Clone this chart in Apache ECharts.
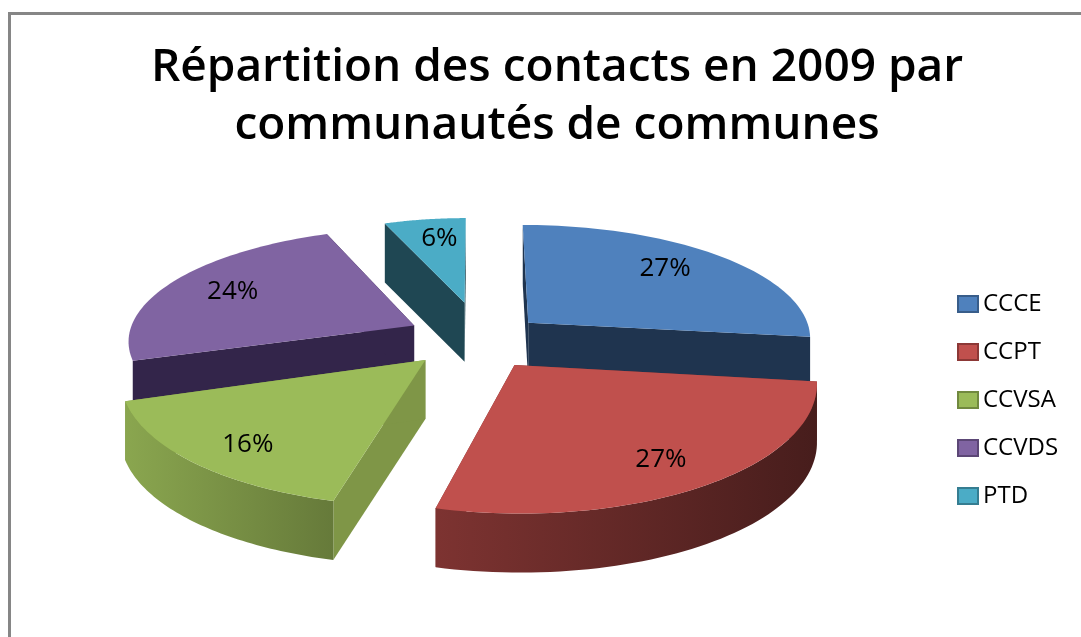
<!DOCTYPE html>
<html>
<head>
<meta charset="utf-8">
<style>html,body{margin:0;padding:0;background:#fff}#main{width:1081px;height:637px}</style>
<script src="https://cdn.jsdelivr.net/npm/echarts@6/dist/echarts.min.js"></script>
</head>
<body>
<div id="main"></div>
<script>
const titleText = "Répartition des contacts en 2009 par\ncommunautés de communes";
const categories = ["CCCE", "CCPT", "CCVSA", "CCVDS", "PTD"];
const values = [27, 27, 16, 24, 6];
const drawOrder = ["PTD", "CCVDS", "CCCE", "CCVSA", "CCPT"];
const wallSlices = ["CCPT", "CCVSA"];

const topColors = ["#4f81bd", "#c0504d", "#9bbb59", "#8064a2", "#4bacc6"];
const borderColors = ["#385d8a", "#8c3836", "#71893f", "#5c4776", "#357d91"];
const faceColors = ["#1f344f", "#7a3230", "#7f9647", "#33254a", "#1f4753"];
const wallLeft = ["#1f344f", "#7d3331", "#8aa64f", "#33254a", "#1f4753"];
const wallRight = ["#1f344f", "#471d1c", "#667a3a", "#33254a", "#1f4753"];

// fake 3d view: tilted disc with a bit of perspective
const view = { cx: 472, cy: 345, r: 295, tilt: 0.4, persp: 0.12, explode: 0.25, depth: 59 };
// per slice tweaks, excel explodes each slice on its own
const sliceShift = [[2, -3], [0, -5], [5, -7], [8, -7], [6, -14]];
const sliceScale = [[0.965, 0.965], [0.99, 1.05], [1, 1.04], [0.97, 0.95], [0.85, 0.85]];
const labelOffset = [[13, -13], [31, 22], [-34, 19], [-17, -12], [11, -15]];
const total = values.reduce((a, b) => a + b, 0);

function project(u, v) {
  const s = 1 / (1 - view.persp * v);
  return [view.cx + u * view.r * s, view.cy + v * view.r * view.tilt * s];
}

function sliceAngles(idx) {
  let sum = 0;
  for (let i = 0; i < idx; i++) sum += values[i];
  const a0 = (sum / total) * Math.PI * 2;
  const a1 = ((sum + values[idx]) / total) * Math.PI * 2;
  return [a0, a1];
}

function renderSlice(idx) {
  const [a0, a1] = sliceAngles(idx);
  const mid = (a0 + a1) / 2;
  const ox = Math.sin(mid) * view.explode;
  const oy = -Math.cos(mid) * view.explode;
  const base = project(ox, oy);
  const at = (a, r) => {
    const p = project(ox + r * Math.sin(a), oy - r * Math.cos(a));
    return [
      base[0] + (p[0] - base[0]) * sliceScale[idx][0] + sliceShift[idx][0],
      base[1] + (p[1] - base[1]) * sliceScale[idx][1] + sliceShift[idx][1],
    ];
  };
  const down = (p) => [p[0], p[1] + view.depth];

  const apex = at(0, 0);
  const rim = [];
  const steps = 60;
  for (let i = 0; i <= steps; i++) rim.push(at(a0 + ((a1 - a0) * i) / steps, 1));

  const face = (p) => ({
    type: "polygon",
    shape: { points: [apex, p, down(p), down(apex)] },
    style: { fill: faceColors[idx] },
  });
  const children = [face(rim[0]), face(rim[steps])];

  if (wallSlices.includes(categories[idx])) {
    children.push({
      type: "polygon",
      shape: { points: rim.concat(rim.map(down).reverse()) },
      style: {
        fill: {
          type: "linear", x: 0, y: 0, x2: 1, y2: 0,
          colorStops: [
            { offset: 0, color: wallLeft[idx] },
            { offset: 1, color: wallRight[idx] },
          ],
        },
      },
    });
  }
  children.push({
    type: "polygon",
    shape: { points: [apex].concat(rim) },
    style: { fill: topColors[idx] },
  });
  const lp = project(ox + 0.62 * Math.sin(mid), oy - 0.62 * Math.cos(mid));
  children.push({
    type: "text",
    style: {
      text: values[idx] + "%",
      x: lp[0] + labelOffset[idx][0], y: lp[1] + labelOffset[idx][1],
      align: "center", verticalAlign: "middle",
      font: '26px "Open Sans"', fill: "#000",
    },
  });
  return { type: "group", children };
}

const chart = echarts.init(document.getElementById("main"), null, { renderer: "canvas" });
chart.setOption({
  animation: false,
  backgroundColor: "#fff",
  title: {
    text: titleText,
    left: 552, top: 34, textAlign: "center",
    textStyle: { fontFamily: "Open Sans", fontWeight: 600, fontSize: 46, lineHeight: 58, color: "#000" },
  },
  legend: {
    orient: "vertical", left: 952, top: 287,
    itemWidth: 20, itemHeight: 16, itemGap: 24,
    icon: "rect",
    data: categories,
    textStyle: { fontFamily: "Open Sans", fontSize: 24, lineHeight: 20, color: "#000" },
  },
  graphic: [{
    type: "rect", silent: true, z: -1,
    shape: { x: 9.5, y: 13.5, width: 1200, height: 800 },
    style: { fill: "none", stroke: "#868686", lineWidth: 3 },
  }],
  series: categories.map((name, idx) => ({
    type: "custom",
    name,
    coordinateSystem: "none",
    z: 2 + drawOrder.indexOf(name),
    itemStyle: { color: topColors[idx], borderColor: borderColors[idx], borderWidth: 2.5 },
    data: [[values[idx]]],
    renderItem: () => renderSlice(idx),
  })),
});
</script>
</body>
</html>
